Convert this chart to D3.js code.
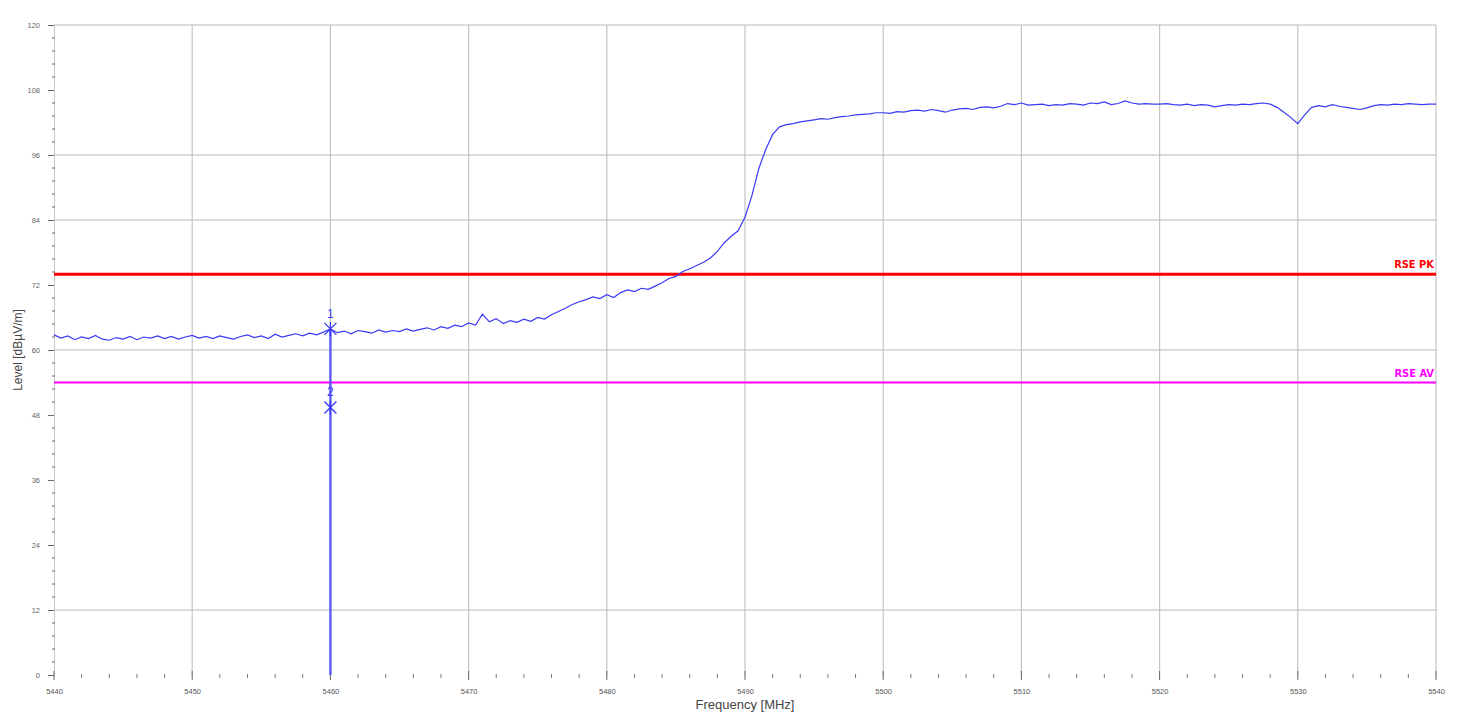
<!DOCTYPE html>
<html><head><meta charset="utf-8">
<script src="https://cdn.jsdelivr.net/npm/d3@7"></script>
<style>
html,body{margin:0;padding:0;background:#fff;}
svg{display:block;font-family:"Liberation Sans",Arial,sans-serif;}
</style></head>
<body>
<svg id="chart" width="1459" height="717"></svg>
<script>
// ---- data ----
const freqStart = 5440, freqStep = 0.5; // MHz, trace sample spacing
const traceLevels = [
  62.8,62.2,62.6,61.9,62.4,62.1,62.7,62.0,61.8,62.3,62.0,62.5,61.9,62.4,62.2,62.6,62.1,62.5,62.0,62.4,
  62.7,62.2,62.5,62.1,62.6,62.3,62.0,62.5,62.8,62.3,62.6,62.1,62.9,62.4,62.7,63.0,62.6,63.1,62.8,63.3,
  63.9,63.2,63.5,63.0,63.6,63.4,63.1,63.7,63.3,63.6,63.4,63.9,63.5,63.8,64.1,63.7,64.3,64.0,64.6,64.3,
  65.0,64.6,66.6,65.2,65.8,64.9,65.4,65.1,65.7,65.3,66.0,65.7,66.5,67.1,67.7,68.4,68.9,69.3,69.8,69.5,
  70.2,69.7,70.6,71.1,70.8,71.4,71.2,71.8,72.4,73.2,73.6,74.5,75.0,75.6,76.2,77.0,78.2,79.8,81.0,82.0,
  84.5,88.5,93.5,97.0,99.8,101.2,101.6,101.8,102.1,102.3,102.5,102.7,102.6,102.9,103.1,103.2,103.4,103.5,103.6,103.8,
  103.8,103.7,104.0,103.9,104.2,104.3,104.1,104.4,104.2,103.9,104.3,104.5,104.6,104.4,104.8,104.9,104.7,105.0,105.5,105.3,
  105.6,105.2,105.3,105.4,105.1,105.3,105.2,105.5,105.4,105.2,105.6,105.5,105.8,105.3,105.5,106.0,105.6,105.4,105.5,105.4,
  105.4,105.5,105.3,105.2,105.4,105.1,105.3,105.2,104.9,105.1,105.3,105.2,105.4,105.3,105.5,105.6,105.4,104.8,103.9,102.9,
  101.8,103.4,104.8,105.1,104.9,105.3,105.0,104.8,104.6,104.4,104.7,105.1,105.3,105.2,105.4,105.3,105.5,105.4,105.3,105.4,105.4
];
const xTicks = [5440,5450,5460,5470,5480,5490,5500,5510,5520,5530,5540];
const yTicks = [0,12,24,36,48,60,72,84,96,108,120];
const yGridValues = [12,60,84,96,120];
const limitNames = ["RSE PK","RSE AV"];
const limitLevels = [74,54];
const limitColors = ["#ff0000","#ff00ff"];
const markerNames = ["1","2"];
const markerFreqs = [5460,5460];
const markerLevels = [63.9,49.4];
const avgStickFreq = 5460, avgStickTop = 63.9;

// ---- layout ----
const svg = d3.select("#chart");
const L = 54, R = 1436, T = 25, B = 675;
const x = d3.scaleLinear().domain([5440,5540]).range([L,R]);
const y = d3.scaleLinear().domain([0,120]).range([B,T]);

// vertical gridlines
svg.append("g").selectAll("line").data(xTicks.slice(1)).join("line")
  .attr("x1",d=>x(d)).attr("x2",d=>x(d)).attr("y1",T).attr("y2",B)
  .attr("stroke","#c4c4c4").attr("stroke-width",1.2);
// horizontal gridlines
svg.append("g").selectAll("line").data(yGridValues).join("line")
  .attr("x1",L).attr("x2",R).attr("y1",d=>y(d)).attr("y2",d=>y(d))
  .attr("stroke","#b8b8b8").attr("stroke-width",1.2);

// y axis
const yAxis = d3.axisLeft(y).tickValues(yTicks).tickSize(6).tickPadding(8).tickFormat(d3.format("d"));
const gy = svg.append("g").attr("transform",`translate(${L},0)`).call(yAxis);
gy.select(".domain").attr("stroke","#c8c8c8");
gy.selectAll(".tick line").attr("stroke","#666");
gy.selectAll(".tick text").attr("fill","#666").attr("font-size",7.5);
const yMinor = d3.range(0,120,2.4).filter(v=>Math.abs(v/12-Math.round(v/12))>1e-6);
svg.append("g").selectAll("line").data(yMinor).join("line")
  .attr("x1",L-2).attr("x2",L+1).attr("y1",d=>y(d)).attr("y2",d=>y(d))
  .attr("stroke","#666").attr("stroke-width",1);

// x axis
const xAxis = d3.axisBottom(x).tickValues(xTicks).tickSize(0).tickPadding(14).tickFormat(d3.format("d"));
const gx = svg.append("g").attr("transform",`translate(0,${B})`).call(xAxis);
gx.select(".domain").remove();
gx.selectAll(".tick text").attr("fill","#555").attr("font-size",7.5);
svg.append("g").selectAll("line").data(xTicks).join("line")
  .attr("x1",d=>x(d)).attr("x2",d=>x(d)).attr("y1",B-4).attr("y2",B+5)
  .attr("stroke","#666").attr("stroke-width",1);
const xMinor = d3.range(5440,5540,2).filter(v=>v%10!==0);
svg.append("g").selectAll("line").data(xMinor).join("line")
  .attr("x1",d=>x(d)).attr("x2",d=>x(d)).attr("y1",B-1).attr("y2",B+3)
  .attr("stroke","#777").attr("stroke-width",1);

// axis titles
svg.append("text").attr("x",(L+R)/2).attr("y",709).attr("text-anchor","middle")
  .attr("font-size",13).attr("fill","#444").text("Frequency [MHz]");
svg.append("text").attr("transform",`translate(22,${(T+B)/2}) rotate(-90)`).attr("text-anchor","middle")
  .attr("font-size",12).attr("fill","#444").text("Level [dBµV/m]");

// limit lines
svg.append("g").selectAll("line").data(limitLevels).join("line")
  .attr("x1",L).attr("x2",R).attr("y1",d=>y(d)).attr("y2",d=>y(d))
  .attr("stroke",(d,i)=>limitColors[i]).attr("stroke-width",(d,i)=>i===0?3:2);
svg.append("g").selectAll("text").data(limitNames).join("text")
  .attr("x",R-2).attr("y",(d,i)=>y(limitLevels[i])-6).attr("text-anchor","end")
  .attr("font-size",11).attr("font-weight","bold").attr("fill",(d,i)=>limitColors[i])
  .attr("font-family","'DejaVu Sans Condensed','Liberation Sans Narrow',sans-serif").text(d=>d);

// avg stick at marker frequency
svg.append("line").attr("x1",x(avgStickFreq)).attr("x2",x(avgStickFreq))
  .attr("y1",y(avgStickTop)).attr("y2",y(0))
  .attr("stroke","#5050ff").attr("stroke-width",2.5).attr("opacity",0.85);

// trace
const traceData = traceLevels.map((v,i)=>[freqStart+i*freqStep,v]);
svg.append("path").datum(traceData)
  .attr("fill","none").attr("stroke","#3a3af5").attr("stroke-width",1.2)
  .attr("d",d3.line().x(d=>x(d[0])).y(d=>y(d[1])));

// markers
const mk = svg.append("g").selectAll("g").data(markerNames).join("g")
  .attr("transform",(d,i)=>`translate(${x(markerFreqs[i])},${y(markerLevels[i])})`);
mk.append("path").attr("d","M-6,-6L6,6M-6,6L6,-6M0,-7L0,7")
  .attr("stroke","#3a3af5").attr("stroke-width",1.3).attr("fill","none");
mk.append("text").attr("y",-11).attr("text-anchor","middle").attr("font-size",12)
  .attr("fill","#3a3af5").text(d=>d);
</script>
</body></html>
